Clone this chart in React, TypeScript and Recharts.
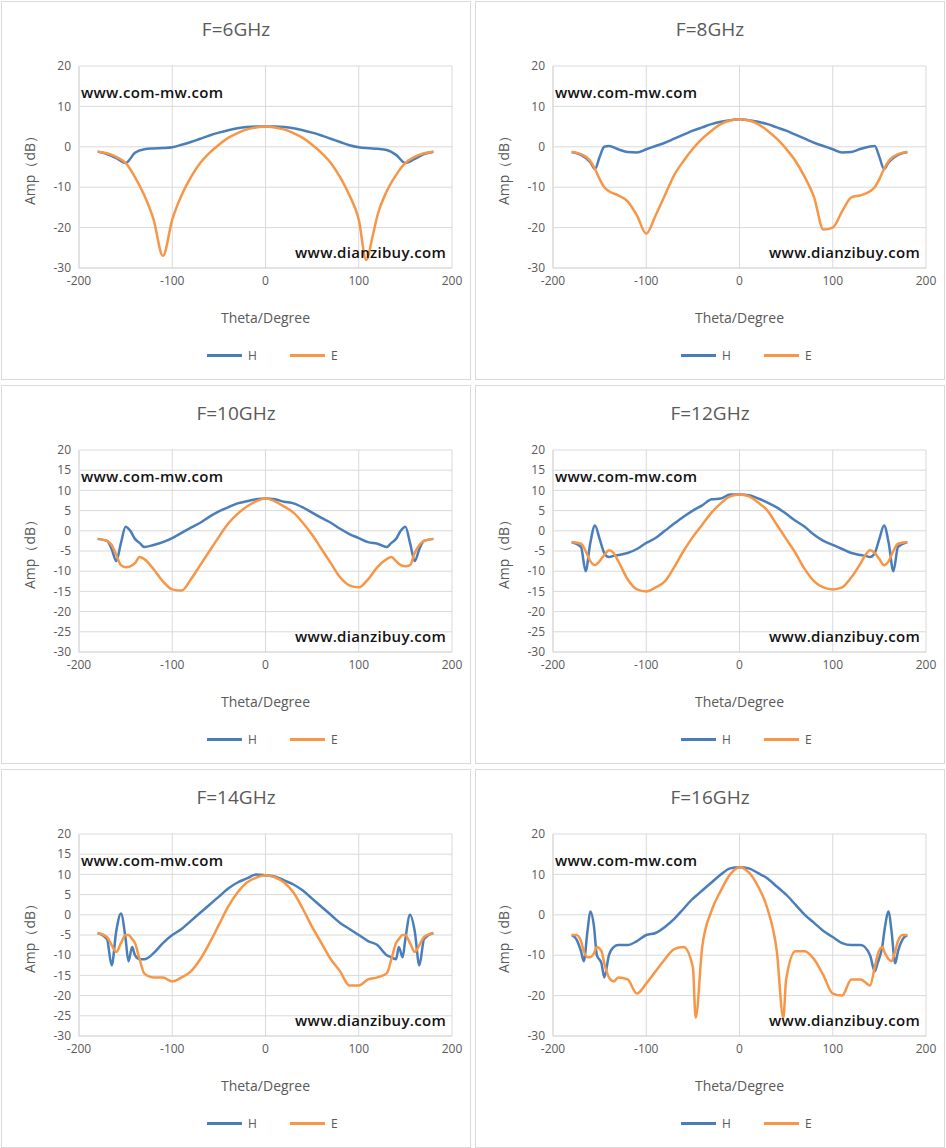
import { LineChart, Line, XAxis, YAxis, CartesianGrid } from "recharts";

const xTicks = [-200, -100, 0, 100, 200];
const yTicksTen = [-30, -20, -10, 0, 10, 20];
const yTicksFive = [-30, -25, -20, -15, -10, -5, 0, 5, 10, 15, 20];

// 6 GHz
const theta6 = [-180, -170, -160, -150, -140, -130, -120, -110, -100, -90, -80, -70, -60, -50, -40, -30, -20, -10, 0, 10, 20, 30, 40, 50, 60, 70, 80, 90, 100, 108, 115, 120, 130, 140, 150, 160, 170, 180];
const h6 = [-1.2, -1.8, -2.8, -4, -1.5, -0.6, -0.4, -0.3, -0.1, 0.5, 1.2, 2, 2.8, 3.5, 4.1, 4.6, 4.9, 5, 5, 5, 4.9, 4.6, 4.1, 3.5, 2.8, 2, 1.2, 0.4, -0.1, -0.3, -0.4, -0.5, -0.8, -2, -4, -3, -1.8, -1.2];
const e6 = [-1.2, -1.6, -2.5, -4, -7.5, -12, -18, -27, -18, -12, -7.5, -4, -1.5, 0.5, 2.2, 3.4, 4.3, 4.8, 5, 4.8, 4.3, 3.4, 2.2, 0.5, -1.5, -4, -7.5, -12, -18, -28, -22, -17, -11, -7, -4, -2.5, -1.6, -1.2];

// 8 GHz
const theta8 = [-180, -170, -160, -155, -150, -145, -140, -130, -120, -110, -100, -90, -80, -70, -60, -50, -40, -30, -20, -10, 0, 10, 20, 30, 40, 50, 60, 70, 80, 90, 100, 110, 120, 130, 140, 145, 150, 155, 160, 170, 180];
const h8 = [-1.3, -2, -3.8, -5.5, -2.5, 0, 0.2, -0.6, -1.3, -1.4, -0.6, 0.2, 1, 2, 3, 4, 4.8, 5.6, 6.2, 6.6, 6.8, 6.6, 6.2, 5.6, 4.8, 4, 3, 2, 1, 0.2, -0.6, -1.4, -1.3, -0.5, 0.1, 0.2, -2.5, -5.5, -3.8, -2, -1.3];
const e8 = [-1.3, -1.8, -3.5, -5.5, -8, -10, -11, -12, -13.5, -17, -21.5, -17, -12, -7, -3.5, -0.5, 2, 4, 5.6, 6.5, 6.8, 6.5, 5.6, 4, 2, -0.5, -3.5, -7.5, -12.5, -20.5, -20, -16, -12.5, -12, -11, -10, -8, -5.5, -3.5, -1.8, -1.3];

// 10 GHz
const theta10 = [-180, -170, -165, -160, -155, -150, -145, -140, -135, -130, -120, -110, -100, -90, -80, -70, -60, -50, -40, -30, -20, -10, 0, 10, 20, 30, 40, 50, 60, 70, 80, 90, 100, 110, 120, 130, 135, 140, 145, 150, 155, 160, 165, 170, 180];
const h10 = [-2, -2.5, -4.5, -7.5, -3, 1, 0, -2, -3, -4, -3.5, -2.8, -1.8, -0.5, 0.8, 2, 3.5, 4.8, 5.8, 6.8, 7.3, 7.8, 8, 7.8, 7.2, 6.8, 5.8, 4.5, 3.2, 2, 0.5, -0.8, -1.8, -2.8, -3.2, -4, -3, -2, 0, 1, -3, -7.5, -4.5, -2.5, -2];
const e10 = [-2, -2.5, -3.5, -6, -8.5, -9, -8.8, -8, -6.5, -7, -9.5, -12.5, -14.5, -14.8, -12, -8.5, -5, -1.5, 1.8, 4.2, 6, 7.3, 8, 7.3, 6, 4.5, 2, -1, -4.5, -8, -11.5, -13.5, -14, -12, -9, -7, -6.5, -7.5, -8.5, -8.8, -8.5, -5.5, -3.5, -2.5, -2];

// 12 GHz
const theta12 = [-180, -170, -165, -160, -155, -150, -145, -140, -135, -130, -120, -110, -100, -90, -80, -70, -60, -50, -40, -30, -20, -10, 0, 10, 20, 30, 40, 50, 60, 70, 80, 90, 100, 110, 120, 130, 135, 140, 145, 150, 155, 160, 165, 170, 180];
const h12 = [-2.8, -4, -10, -3, 1.3, -2, -5.5, -6.5, -6.2, -6, -5.5, -4.5, -3, -1.8, 0, 1.8, 3.5, 5, 6.3, 7.8, 8, 9, 9, 8.8, 8, 7, 5.8, 4.2, 2.5, 1, -1, -2.5, -3.5, -4.5, -5.5, -6, -6.2, -6.5, -5.5, -2, 1.3, -3, -10, -4, -2.8];
const e12 = [-2.8, -3.2, -5, -7.5, -8.5, -7.5, -6, -4.8, -5.5, -7.5, -12, -14.5, -15, -14, -12.5, -9, -5, -1.5, 1.5, 4.5, 6.8, 8.5, 9, 8.5, 7, 5, 1.5, -2, -5.5, -9.5, -12.5, -14, -14.5, -14, -11.5, -8, -6, -4.8, -5.5, -7, -8.5, -7.5, -5, -3.2, -2.8];

// 14 GHz
const theta14 = [-180, -170, -165, -160, -155, -150, -147, -143, -140, -135, -130, -120, -110, -100, -90, -80, -70, -60, -50, -40, -30, -20, -10, 0, 10, 20, 30, 40, 50, 60, 70, 80, 90, 100, 110, 120, 130, 135, 140, 143, 147, 150, 155, 160, 165, 170, 180];
const h14 = [-4.5, -6, -12.5, -4, 0.3, -6, -11.5, -8, -10, -11, -11, -9.5, -7, -5, -3.5, -1.5, 0.5, 2.5, 4.5, 6.5, 8, 9, 10, 9.8, 9.5, 8.5, 7.5, 6, 4, 2, 0, -2, -3.5, -5, -6.5, -7.5, -10, -10.5, -11, -8, -10.5, -6, 0, -4, -12.5, -6, -4.5];
const e14 = [-4.5, -5.5, -7.5, -9.2, -7, -5, -5, -6, -7, -11, -14.5, -15.5, -15.5, -16.5, -15.5, -14, -11, -7, -2.5, 2, 5.5, 8, 9.2, 9.8, 9.3, 8, 5.5, 1.5, -3, -7, -11, -14, -17.5, -17.5, -16, -15.5, -14.5, -11, -7, -6, -5, -5, -7, -9.2, -7.5, -5.5, -4.5];

// 16 GHz
const theta16 = [-180, -175, -170, -167, -163, -160, -156, -153, -148, -145, -140, -135, -130, -120, -110, -100, -90, -80, -70, -60, -50, -47, -40, -30, -20, -10, 0, 10, 20, 30, 40, 47, 50, 60, 70, 80, 90, 100, 110, 120, 130, 140, 145, 148, 153, 156, 160, 163, 167, 170, 175, 180];
const h16 = [-5, -6, -9, -11.5, -4, 0.8, -3, -10, -12, -15.5, -10, -8, -7.5, -7.5, -6.5, -5, -4.5, -3, -1, 1.5, 4, 4.6, 6, 8, 10, 11.5, 11.8, 11.5, 10.3, 9, 7, 5.6, 5, 2.5, 0, -2, -4, -5.5, -7, -7.5, -7.5, -10, -14, -12, -8, -3, 0.8, -4, -12, -9, -6, -5];
const e16 = [-5, -5, -6.5, -9, -10.5, -10.5, -9.5, -8, -9, -12, -15.5, -16.5, -15.5, -16, -19.5, -17, -14, -11, -8.5, -8, -13, -25.5, -8, 1, 6, 10, 11.8, 10.5, 7, 1.5, -9, -25.5, -16, -9, -9, -11, -15, -19.5, -20, -16, -16, -17.5, -13, -10, -8, -9.5, -11, -11.5, -9, -6.5, -5, -5];

const H_COLOR = "#4A7EBB";
const E_COLOR = "#F79646";
const GREY = "#595959";
const FONT = "'Open Sans', 'Liberation Sans', sans-serif";

interface PanelProps {
  title: string;
  theta: number[];
  h: number[];
  e: number[];
  yTicks: number[];
  x: number;
  y: number;
}

function Panel({ title, theta, h, e, yTicks, x, y }: PanelProps) {
  const data = theta.map((t, i) => ({ t, H: h[i], E: e[i] }));
  const tickStyle = { fill: GREY, fontSize: 12, fontFamily: FONT };
  return (
    <div
      style={{
        position: "absolute",
        left: x,
        top: y,
        width: 468,
        height: 377,
        border: "1px solid #d9d9d9",
        background: "#fff",
        fontFamily: FONT,
      }}
    >
      <div style={{ position: "absolute", top: 14, width: "100%", textAlign: "center", fontSize: 19, color: GREY }}>
        {title}
      </div>
      <div style={{ position: "absolute", left: 0, top: 0 }}>
        <LineChart width={468} height={300} data={data} margin={{ top: 64, right: 18, left: 37, bottom: 4 }}>
          <CartesianGrid stroke="#d9d9d9" />
          <XAxis
            dataKey="t"
            type="number"
            domain={[-200, 200]}
            ticks={xTicks}
            tick={tickStyle}
            tickLine={false}
            axisLine={{ stroke: "#d9d9d9" }}
            height={30}
          />
          <YAxis
            type="number"
            domain={[-30, 20]}
            ticks={yTicks}
            tick={tickStyle}
            tickLine={false}
            axisLine={{ stroke: "#d9d9d9" }}
            width={40}
            interval={0}
          />
          <Line type="monotone" dataKey="H" stroke={H_COLOR} strokeWidth={2.5} dot={false} isAnimationActive={false} />
          <Line type="monotone" dataKey="E" stroke={E_COLOR} strokeWidth={2.5} dot={false} isAnimationActive={false} />
        </LineChart>
      </div>
      <div style={{ position: "absolute", left: 79, top: 80, fontSize: 15, fontWeight: 600, color: "#111", letterSpacing: 0.3 }}>
        www.com-mw.com
      </div>
      <div style={{ position: "absolute", right: 24, top: 240, fontSize: 15, fontWeight: 600, color: "#111", letterSpacing: 0.3 }}>
        www.dianzibuy.com
      </div>
      <div
        style={{
          position: "absolute",
          left: 28,
          top: 165,
          transform: "translate(-50%, -50%) rotate(-90deg)",
          fontSize: 14,
          color: GREY,
          whiteSpace: "nowrap",
        }}
      >
        Amp（dB）
      </div>
      <div style={{ position: "absolute", top: 306, left: 77, width: 373, textAlign: "center", fontSize: 14, color: GREY }}>
        Theta/Degree
      </div>
      <div style={{ position: "absolute", top: 345, left: 205, display: "flex", alignItems: "center", fontSize: 12, color: GREY }}>
        <span style={{ display: "inline-block", width: 35, height: 3, background: H_COLOR, marginRight: 6 }} />
        <span style={{ width: 42 }}>H</span>
        <span style={{ display: "inline-block", width: 35, height: 3, background: E_COLOR, marginRight: 6 }} />
        <span>E</span>
      </div>
    </div>
  );
}

export default function App() {
  return (
    <div style={{ position: "absolute", left: 0, top: 0, width: 946, height: 1148, background: "#fff" }}>
      <Panel title="F=6GHz" theta={theta6} h={h6} e={e6} yTicks={yTicksTen} x={1} y={1} />
      <Panel title="F=8GHz" theta={theta8} h={h8} e={e8} yTicks={yTicksTen} x={475} y={1} />
      <Panel title="F=10GHz" theta={theta10} h={h10} e={e10} yTicks={yTicksFive} x={1} y={385} />
      <Panel title="F=12GHz" theta={theta12} h={h12} e={e12} yTicks={yTicksFive} x={475} y={385} />
      <Panel title="F=14GHz" theta={theta14} h={h14} e={e14} yTicks={yTicksFive} x={1} y={769} />
      <Panel title="F=16GHz" theta={theta16} h={h16} e={e16} yTicks={yTicksTen} x={475} y={769} />
    </div>
  );
}
